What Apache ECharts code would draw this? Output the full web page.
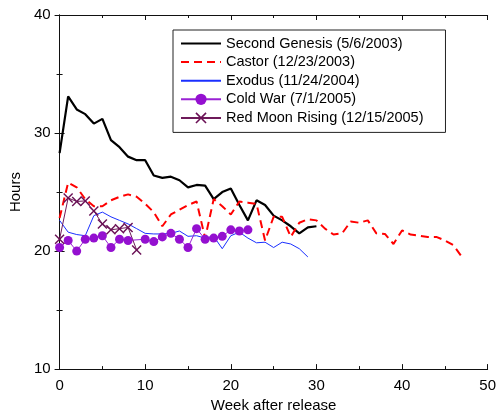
<!DOCTYPE html>
<html>
	<head>
		<meta charset="utf-8">
		<title>Hours per week</title>
		<script src="https://cdn.jsdelivr.net/npm/echarts@6/dist/echarts.min.js"></script>
	</head>
	<body style="margin:0">
		<div id="box" style="width: 499px;height: 418px;"></div>
		<script>
			// 数据
			var weeksSG = [0,1,2,3,4,5,6,7,8,9,10,11,12,13,14,15,16,17,18,19,20,21,22,23,24,25,26,27,28,29,30]
			var hoursSG = [28.3,33.1,32.0,31.6,30.8,31.2,29.4,28.8,28.0,27.7,27.7,26.4,26.2,26.3,26.0,25.4,25.6,25.55,24.4,25.0,25.3,23.9,22.6,24.3,23.9,23.0,22.6,22.1,21.5,22.0,22.1]

			var weeksCastor = [0,1,2,3,4,5,6,7,8,9,10,11,12,13,14,15,16,17,18,19,20,21,22,23,24,25,26,27,28,29,30,31,32,33,34,35,36,37,38,39,40,41,42,43,44,45,46,47]
			var hoursCastor = [22.8,25.8,25.4,24.4,23.8,23.8,24.3,24.6,24.8,24.6,24.0,23.3,22.1,23.1,23.5,23.9,24.2,21.1,24.4,23.8,23.1,24.2,24.1,24.0,20.9,22.9,22.9,21.2,22.4,22.7,22.6,21.9,21.4,21.5,22.5,22.4,22.6,21.5,21.45,20.6,21.75,21.4,21.3,21.2,21.2,20.9,20.5,19.5]

			var weeksExodus = [0,1,2,3,4,5,6,7,8,9,10,11,12,13,14,15,16,17,18,19,20,21,22,23,24,25,26,27,28,29]
			var hoursExodus = [22.6,21.6,21.4,21.3,23.0,23.3,22.9,22.6,22.3,21.9,21.5,21.45,21.45,21.5,21.7,21.25,21.3,21.1,21.25,20.2,21.3,21.6,21.1,20.7,20.75,20.3,20.75,20.6,20.2,19.5]

			var weeksColdWar = [0,1,2,3,4,5,6,7,8,10,11,12,13,14,15,16,17,18,19,20,21,22]
			var hoursColdWar = [20.3,20.9,20.0,21.0,21.1,21.3,20.3,21.0,20.9,21.0,20.8,21.2,21.5,21.0,20.3,21.9,21.0,21.1,21.25,21.8,21.7,21.8]

			var weeksRMR = [0,1,2,3,4,5,6,7,8,9]
			var hoursRMR = [21.0,24.5,24.2,24.25,23.4,22.3,21.8,21.9,22.0,20.1]

			var xTicks = [0,10,20,30,40,50]
			var yTicks = [10,20,30,40]

			var names = ['Second Genesis (5/6/2003)', 'Castor (12/23/2003)', 'Exodus (11/24/2004)', 'Cold War (7/1/2005)', 'Red Moon Rising (12/15/2005)']

			function pairs(w, h) {
				var arr = []
				for (var i = 0; i < w.length; i++) {
					arr.push([w[i], h[i]])
				}
				return arr
			}

			var font = 'Liberation Sans, Arial, sans-serif'
			var crossPath = 'path://M0,1 L1,0 L5,4 L9,0 L10,1 L6,5 L10,9 L9,10 L5,6 L1,10 L0,9 L4,5 Z'

			function axisBase(show) {
				return {
					axisLine: { show: true, lineStyle: { color: '#111', width: 1 } },
					axisTick: { show: true, inside: true, length: 5, lineStyle: { color: '#111' } },
					minorTick: { show: true, splitNumber: 2, length: 3, lineStyle: { color: '#111' } },
					splitLine: { show: false },
					axisLabel: { show: show, color: '#000', fontSize: 15, fontFamily: font, margin: 9 }
				}
			}

			var mCharts = echarts.init(document.querySelector('#box'))

			var xMain = Object.assign(axisBase(true), {
				type: 'value', min: xTicks[0], max: xTicks[xTicks.length - 1], interval: 10,
				position: 'bottom',
				name: 'Week after release', nameLocation: 'middle', nameGap: 27,
				nameTextStyle: { color: '#000', fontSize: 15, fontFamily: font }
			})
			var xTop = Object.assign(axisBase(false), {
				type: 'value', min: 0, max: 50, interval: 10, position: 'top'
			})
			var yMain = Object.assign(axisBase(true), {
				type: 'value', min: yTicks[0], max: yTicks[yTicks.length - 1], interval: 10,
				position: 'left',
				name: 'Hours', nameLocation: 'middle', nameGap: 31,
				nameTextStyle: { color: '#000', fontSize: 15, fontFamily: font }
			})
			var yRight = Object.assign(axisBase(false), {
				type: 'value', min: 10, max: 40, interval: 10, position: 'right'
			})

			// 只画线的系列: 图例里不要圆点
			var hidden = { color: 'rgba(0,0,0,0)', borderWidth: 0, opacity: 0 }

			var option = {
				animation: false,
				grid: { left: 58, right: 9, top: 15, bottom: 43 },
				xAxis: [xMain, xTop],
				yAxis: [yMain, yRight],
				legend: {
					orient: 'vertical',
					left: 173,
					top: 30,
					padding: [6, 22, 7, 7],
					itemGap: 3.6,
					itemWidth: 40,
					itemHeight: 14,
					backgroundColor: '#fff',
					borderColor: '#222',
					borderWidth: 1,
					textStyle: { color: '#000', fontSize: 14.5, fontFamily: font },
					data: [
						{ name: names[0], itemStyle: hidden },
						{ name: names[1], itemStyle: hidden },
						{ name: names[2], itemStyle: hidden },
						names[3],
						names[4]
					]
				},
				series: [
					{
						name: names[0],
						type: 'line',
						data: pairs(weeksSG, hoursSG),
						symbol: 'none',
						lineStyle: { color: '#000', width: 2.2 },
						itemStyle: { color: '#000' }
					},
					{
						name: names[1],
						type: 'line',
						data: pairs(weeksCastor, hoursCastor),
						symbol: 'none',
						lineStyle: { color: '#ff0000', width: 2, type: [8, 5] },
						itemStyle: { color: '#ff0000' }
					},
					{
						name: names[2],
						type: 'line',
						data: pairs(weeksExodus, hoursExodus),
						symbol: 'none',
						lineStyle: { color: '#1a2fff', width: 1 },
						itemStyle: { color: '#6f6fff' }
					},
					{
						name: names[3],
						type: 'line',
						data: pairs(weeksColdWar, hoursColdWar),
						symbol: 'circle',
						symbolSize: 9,
						lineStyle: { color: '#9a22d4', width: 1 },
						itemStyle: { color: '#9410d0', borderWidth: 0 }
					},
					{
						name: names[4],
						type: 'line',
						data: pairs(weeksRMR, hoursRMR),
						symbol: crossPath,
						symbolSize: 10,
						lineStyle: { color: '#6e1a5a', width: 1 },
						itemStyle: { color: '#6a1055', borderWidth: 0 }
					}
				]
			}
			mCharts.setOption(option)
		</script>
	</body>
</html>
